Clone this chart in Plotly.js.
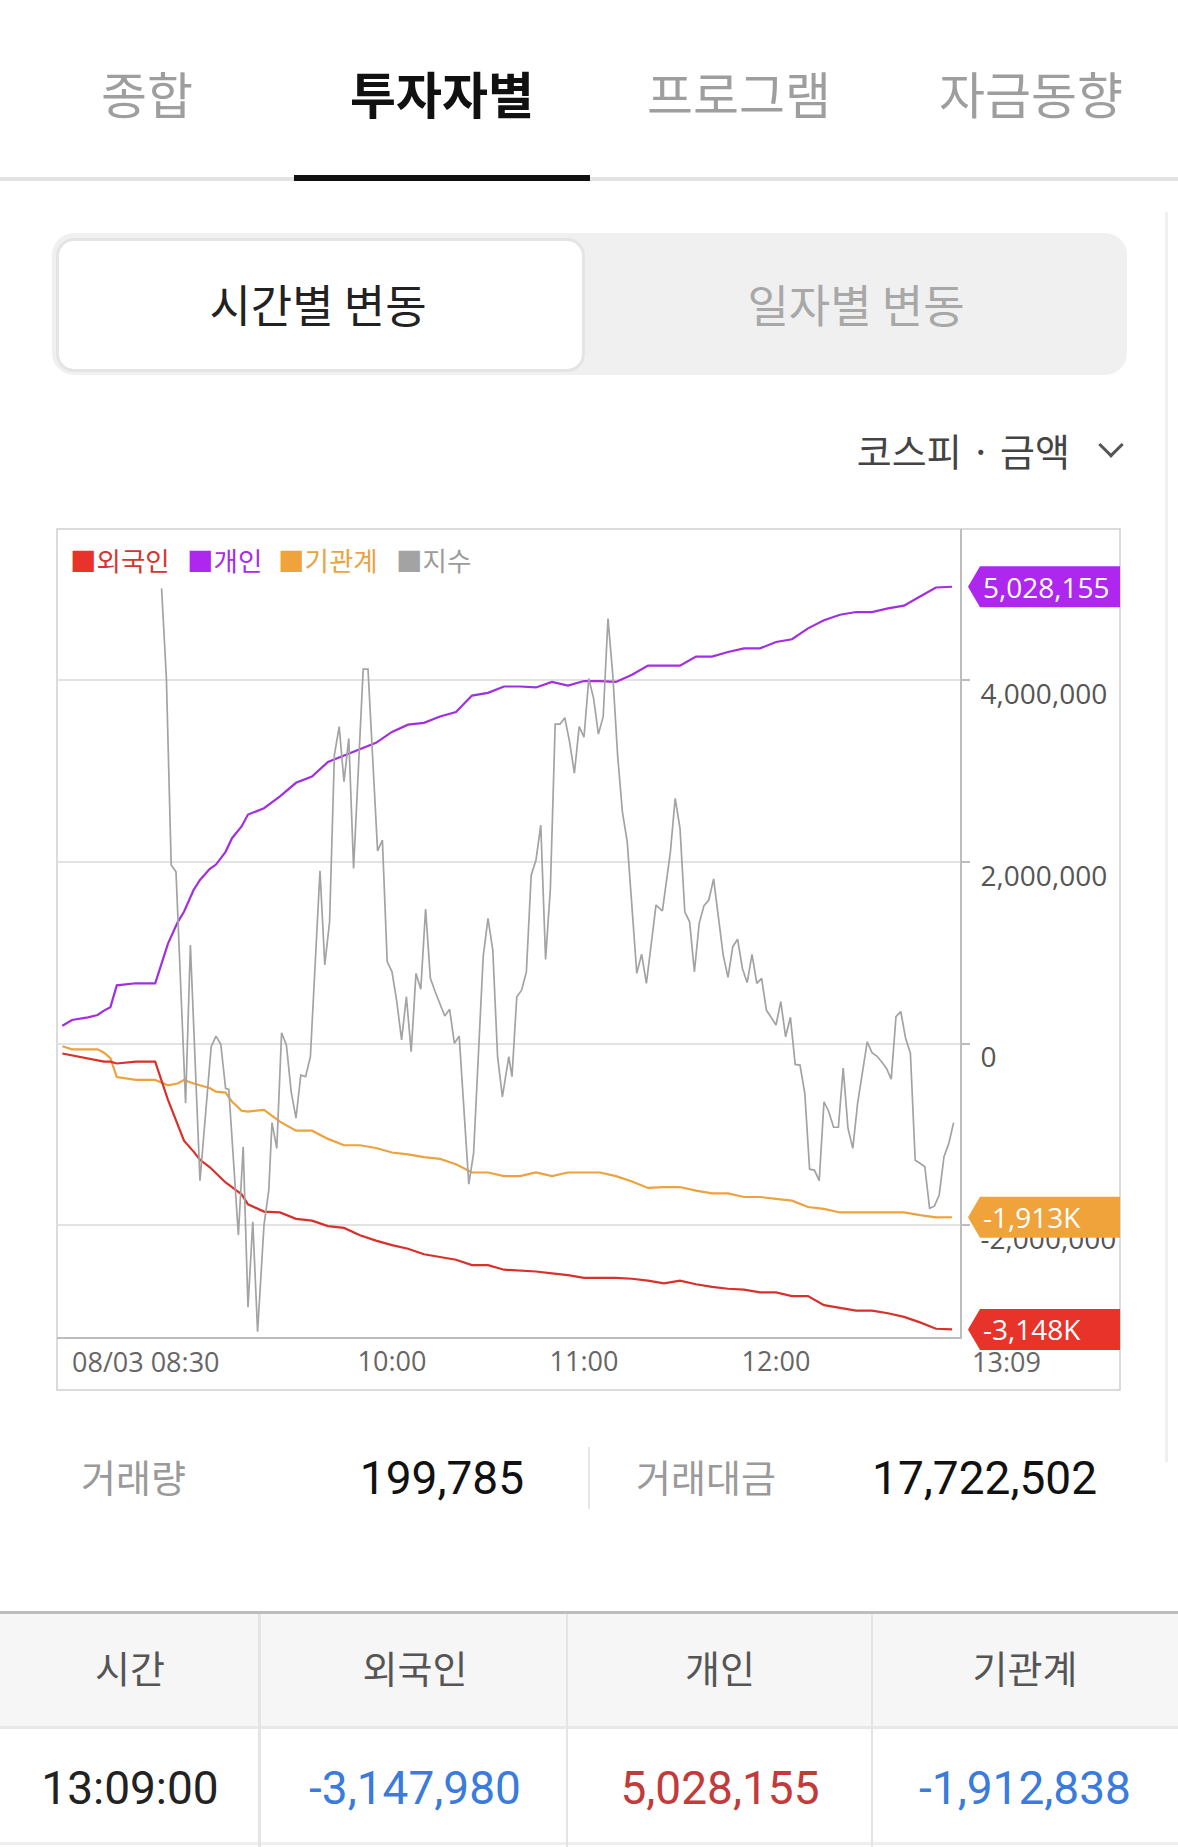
<!DOCTYPE html>
<html>
<head>
<meta charset="utf-8">
<script src="https://cdn.plot.ly/plotly-3.0.1.min.js"></script>
<style>
  html, body { margin:0; padding:0; background:#fff; }
  body { width:1178px; height:1847px; position:relative; overflow:hidden; font-family:"Noto Sans CJK KR","Noto Sans",sans-serif; }
  .c { position:absolute; transform:translate(-50%,-50%); white-space:nowrap; line-height:1; }
  .l { position:absolute; transform:translate(0,-50%); white-space:nowrap; line-height:1; }
  .r { position:absolute; transform:translate(-100%,-50%); white-space:nowrap; line-height:1; }
  .num { font-family:Roboto,"Noto Sans",sans-serif; }
  #chart { position:absolute; left:0; top:500px; width:1178px; height:940px; }
</style>
</head>
<body>
<!-- tabs -->
<div class="c" style="left:147px;top:92px;font-size:50px;color:#9e9e9e;">종합</div>
<div class="c" style="left:442px;top:92px;font-size:50px;color:#111;font-weight:700;">투자자별</div>
<div class="c" style="left:739px;top:92px;font-size:50px;color:#9e9e9e;">프로그램</div>
<div class="c" style="left:1031px;top:92px;font-size:50px;color:#9e9e9e;">자금동향</div>
<div style="position:absolute;left:0;top:177px;width:1178px;height:4px;background:#e3e3e3;"></div>
<div style="position:absolute;left:294px;top:175px;width:296px;height:6px;background:#111;"></div>
<div style="position:absolute;left:1165px;top:212px;width:3px;height:1250px;background:#f0f0f0;"></div>

<!-- segmented control -->
<div style="position:absolute;left:52px;top:233px;width:1075px;height:142px;background:#f0f0f0;border-radius:22px;"></div>
<div style="position:absolute;left:56px;top:238px;width:529px;height:134px;background:#fff;border:3px solid #e4e4e4;border-radius:18px;box-sizing:border-box;"></div>
<div class="c" style="left:318px;top:303px;font-size:45px;color:#222;">시간별 변동</div>
<div class="c" style="left:856px;top:303px;font-size:45px;color:#a8a8a8;">일자별 변동</div>

<!-- market selector -->
<div class="r" style="left:1070px;top:450px;font-size:38px;color:#444;">코스피 · 금액</div>
<div style="position:absolute;left:1102px;top:436px;width:15px;height:15px;border-right:3px solid #555;border-bottom:3px solid #555;transform:rotate(45deg);"></div>

<div id="chart"></div>

<!-- stats -->
<div class="l" style="left:81px;top:1476px;font-size:38px;color:#9a9a9a;">거래량</div>
<div class="r num" style="left:524px;top:1478px;font-size:46px;color:#111;">199,785</div>
<div style="position:absolute;left:588px;top:1447px;width:2px;height:62px;background:#e6e6e6;"></div>
<div class="l" style="left:636px;top:1476px;font-size:38px;color:#9a9a9a;">거래대금</div>
<div class="r num" style="left:1097px;top:1478px;font-size:46px;color:#111;">17,722,502</div>

<!-- table -->
<div style="position:absolute;left:0;top:1611px;width:1178px;height:3px;background:#bdbdbd;"></div>
<div style="position:absolute;left:0;top:1614px;width:1178px;height:113px;background:#f6f6f6;"></div>
<div style="position:absolute;left:0;top:1726px;width:1178px;height:3px;background:#e8e8e8;"></div>
<div style="position:absolute;left:0;top:1842px;width:1178px;height:3px;background:#eeeeee;"></div>
<div style="position:absolute;left:258px;top:1614px;width:3px;height:233px;background:#e4e4e4;"></div>
<div style="position:absolute;left:566px;top:1614px;width:2px;height:233px;background:#e4e4e4;"></div>
<div style="position:absolute;left:871px;top:1614px;width:2px;height:233px;background:#e4e4e4;"></div>
<div class="c" style="left:130px;top:1667px;font-size:38px;color:#555;">시간</div>
<div class="c" style="left:415px;top:1667px;font-size:38px;color:#555;">외국인</div>
<div class="c" style="left:720px;top:1667px;font-size:38px;color:#555;">개인</div>
<div class="c" style="left:1025px;top:1667px;font-size:38px;color:#555;">기관계</div>
<div class="c num" style="left:130px;top:1788px;font-size:46px;color:#222;">13:09:00</div>
<div class="c num" style="left:415px;top:1788px;font-size:46px;color:#3b7bdb;">-3,147,980</div>
<div class="c num" style="left:720px;top:1788px;font-size:46px;color:#c23b3b;">5,028,155</div>
<div class="c num" style="left:1025px;top:1788px;font-size:46px;color:#3b7bdb;">-1,912,838</div>

<script>
// ---- data ----
const tradeDate = '2023-08-03';
const investorTimes = ['08:17','08:20','08:25','08:28','08:30','08:32','08:34','08:40','08:46','08:50',
  '08:53','08:55','08:58','09:00','09:03','09:05','09:08','09:10','09:13','09:15',
  '09:20','09:25','09:30','09:35','09:40','09:45','09:50','09:55','10:00','10:05',
  '10:10','10:15','10:20','10:25','10:30','10:35','10:40','10:45','10:50','10:55',
  '11:00','11:05','11:10','11:15','11:20','11:25','11:30','11:35','11:40','11:45',
  '11:50','11:55','12:00','12:05','12:10','12:15','12:20','12:25','12:30','12:35',
  '12:40','12:45','12:50','12:55'];
const foreignNet = [-110000,-130000,-170000,-190000,-200000,-200000,-220000,-200000,-200000,-620000,
  -900000,-1070000,-1190000,-1280000,-1360000,-1430000,-1530000,-1580000,-1660000,-1770000,
  -1850000,-1860000,-1930000,-1950000,-2010000,-2030000,-2110000,-2170000,-2220000,-2260000,
  -2320000,-2350000,-2380000,-2440000,-2440000,-2490000,-2500000,-2510000,-2530000,-2550000,
  -2580000,-2580000,-2580000,-2590000,-2610000,-2640000,-2610000,-2650000,-2680000,-2700000,
  -2710000,-2740000,-2740000,-2780000,-2780000,-2880000,-2910000,-2940000,-2940000,-2970000,
  -3010000,-3070000,-3140000,-3147980];
const individualNet = [196000,259000,288000,314000,362000,400000,640000,663000,663000,1100000,
  1334000,1451000,1690000,1800000,1920000,1970000,2110000,2260000,2390000,2520000,
  2590000,2720000,2870000,2940000,3100000,3170000,3240000,3310000,3430000,3510000,
  3530000,3600000,3650000,3830000,3860000,3930000,3930000,3920000,3980000,3940000,
  3990000,3990000,3980000,4060000,4160000,4160000,4160000,4260000,4260000,4310000,
  4350000,4350000,4420000,4450000,4570000,4660000,4720000,4750000,4750000,4790000,
  4820000,4920000,5020000,5028155];
const institutionNet = [-30000,-64000,-64000,-64000,-101000,-160000,-370000,-400000,-401000,-460000,
  -440000,-401000,-440000,-463000,-490000,-530000,-540000,-640000,-740000,-750000,
  -730000,-860000,-960000,-960000,-1050000,-1120000,-1120000,-1150000,-1200000,-1220000,
  -1250000,-1270000,-1330000,-1420000,-1420000,-1460000,-1460000,-1420000,-1460000,-1420000,
  -1420000,-1420000,-1460000,-1520000,-1590000,-1580000,-1580000,-1620000,-1650000,-1650000,
  -1690000,-1690000,-1710000,-1730000,-1800000,-1820000,-1860000,-1860000,-1860000,-1860000,
  -1860000,-1890000,-1915000,-1912838];
const indexTimes = ['08:48:00','08:49:30','08:51:00','08:52:30','08:55:30','08:57:00','09:00:00','09:03:30','09:05:00','09:06:30',
  '09:08:00','09:09:00','09:12:00','09:13:30','09:15:00','09:16:30','09:18:00','09:20:00','09:21:30','09:22:30',
  '09:24:00','09:25:30','09:27:00','09:28:30','09:30:00','09:31:30','09:33:00','09:34:30','09:37:30','09:39:00',
  '09:40:30','09:42:00','09:43:30','09:45:00','09:46:30','09:48:00','09:51:00','09:52:30','09:55:30','09:57:00',
  '09:58:30','10:00:00','10:01:30','10:03:00','10:04:30','10:06:00','10:07:30','10:09:00','10:10:30','10:12:00',
  '10:13:30','10:16:30','10:18:00','10:19:30','10:21:00','10:24:00','10:25:30','10:28:30','10:30:00','10:31:30',
  '10:33:00','10:34:30','10:36:30','10:37:30','10:39:00','10:40:30','10:42:00','10:43:30','10:45:00','10:46:30',
  '10:48:00','10:49:30','10:51:00','10:52:30','10:54:00','10:55:30','10:57:00','10:58:30','11:00:00','11:01:30',
  '11:03:00','11:04:30','11:06:00','11:07:30','11:09:00','11:10:30','11:12:00','11:13:30','11:16:30','11:18:00',
  '11:19:30','11:22:30','11:24:30','11:27:00','11:28:30','11:30:00','11:31:30','11:33:00','11:34:30','11:36:00',
  '11:37:30','11:39:00','11:40:30','11:43:30','11:45:00','11:46:30','11:48:00','11:49:30','11:51:00','11:52:30',
  '11:54:00','11:55:30','11:57:00','11:58:30','12:00:00','12:01:30','12:03:00','12:04:30','12:06:00','12:07:30',
  '12:09:00','12:10:30','12:12:00','12:13:30','12:15:00','12:16:30','12:18:00','12:19:30','12:21:00','12:22:30',
  '12:24:00','12:25:30','12:27:00','12:28:30','12:30:00','12:31:30','12:33:00','12:34:30','12:36:00','12:37:30',
  '12:39:00','12:40:30','12:42:00','12:43:30','12:45:00','12:46:30','12:48:00','12:49:30','12:51:00','12:52:30',
  '12:54:00','12:55:30'];
const indexValues = [2620.09,2617.20,2611.19,2610.97,2603.52,2608.61,2601.03,2605.34,2605.68,2605.42,
  2604.00,2603.97,2599.28,2602.12,2596.96,2599.71,2596.17,2599.60,2600.73,2602.90,
  2602.07,2605.79,2605.40,2603.89,2603.04,2604.43,2604.38,2605.02,2611.00,2607.97,
  2609.36,2614.73,2615.64,2613.87,2615.26,2611.08,2617.49,2617.49,2611.64,2611.99,
  2608.08,2607.75,2606.79,2605.56,2606.95,2605.18,2607.70,2607.19,2609.77,2607.54,
  2607.11,2606.33,2606.55,2605.45,2605.68,2600.92,2601.91,2608.24,2609.47,2608.45,
  2605.02,2603.73,2605.02,2604.38,2606.95,2607.16,2607.75,2610.86,2611.35,2612.47,
  2608.15,2610.44,2615.72,2615.72,2615.93,2615.15,2614.14,2615.64,2615.30,2617.19,
  2616.55,2615.40,2615.96,2619.12,2617.30,2614.73,2612.90,2611.94,2607.70,2608.32,
  2607.38,2609.90,2609.71,2611.61,2613.33,2612.37,2609.68,2609.36,2607.75,2609.31,
  2609.88,2610.06,2610.74,2608.29,2607.57,2608.56,2608.80,2607.86,2607.40,2608.31,
  2607.38,2607.54,2606.52,2606.29,2606.04,2606.79,2605.66,2606.29,2604.77,2604.75,
  2603.84,2601.40,2601.37,2601.03,2603.57,2603.25,2602.75,2602.75,2604.65,2602.71,
  2602.07,2603.52,2604.59,2605.50,2605.15,2605.04,2604.86,2604.65,2604.30,2606.31,
  2606.47,2605.61,2605.13,2601.69,2601.59,2601.48,2600.14,2600.21,2600.57,2601.80,
  2602.23,2602.90];
const yTickVals = [-2000000, 0, 2000000, 4000000];
const yTickText = ['-2,000,000', '0', '2,000,000', '4,000,000'];
const xTickTimes = ['10:00', '11:00', '12:00'];
const firstTimeLabel = '08/03 08:30';
const lastTimeLabel = '13:09';
const seriesNames = ['외국인', '개인', '기관계', '지수'];
const lastValues = [-3147980, 5028155, -1912838];
const lastLabels = ['-3,148K', '5,028,155', '-1,913K'];

// ---- styles ----
const lineColors = ['#d8302a', '#a12fe2', '#eca23f', '#a3a3a3'];
const badgeColors = ['#e8332b', '#ad27ee', '#f0a33b'];
const textColors = ['#d4362f', '#a52ee6', '#e9a444', '#9c9c9c'];
const squareColors = ['#e8332b', '#ad27ee', '#f0a33b', '#a3a3a3'];
const yRange = [-3231000, 5664000];

const toDate = t => tradeDate + ' ' + t;
const ix = investorTimes.map(toDate);

const traces = [
  {x: ix, y: institutionNet, type:'scatter', mode:'lines', name: seriesNames[2], line:{color:lineColors[2], width:2.2}, hoverinfo:'skip'},
  {x: ix, y: individualNet, type:'scatter', mode:'lines', name: seriesNames[1], line:{color:lineColors[1], width:2.2}, hoverinfo:'skip'},
  {x: ix, y: foreignNet, type:'scatter', mode:'lines', name: seriesNames[0], line:{color:lineColors[0], width:2.2}, hoverinfo:'skip'},
  {x: indexTimes.map(toDate), y: indexValues, type:'scatter', mode:'lines', name: seriesNames[3], yaxis:'y2', line:{color:lineColors[3], width:1.7}, hoverinfo:'skip'}
];

const plotW = 903, plotH = 808; // plot area in px (for paper placement)
const annotations = [];
const legendX = [68, 184.5, 275.5, 393.5];
seriesNames.forEach((n, i) => {
  annotations.push({
    xref:'paper', yref:'paper', x:(legendX[i]-57)/plotW, y:(1337-559)/plotH,
    xanchor:'left', yanchor:'middle', showarrow:false,
    text:'<span style="color:' + squareColors[i] + '">■</span>' + n,
    font:{family:'Noto Sans CJK KR, Noto Sans, sans-serif', size:26.5, color:textColors[i]}
  });
});
annotations.push({xref:'paper', yref:'paper', x:(70-57)/plotW, y:(1337-1361)/plotH, xanchor:'left', yanchor:'middle',
  showarrow:false, text:firstTimeLabel, font:{family:'Open Sans, Noto Sans, sans-serif', size:27, color:'#666'}});
annotations.push({xref:'paper', yref:'paper', x:(1007-57)/plotW, y:(1337-1361)/plotH, xanchor:'center', yanchor:'middle',
  showarrow:false, text:lastTimeLabel, font:{family:'Open Sans, Noto Sans, sans-serif', size:27, color:'#666'}});

const shapes = [
  {type:'rect', xref:'paper', yref:'paper', x0:0, x1:(1120-57)/plotW, y0:(1337-1390)/plotH, y1:1,
   line:{color:'#cfcfcf', width:1.5}, fillcolor:'rgba(0,0,0,0)', layer:'below'}
];
lastValues.forEach((v, i) => {
  // badge pinned to the series' last value, placed in paper space so it is not clipped by the plot area
  const yp = (v - yRange[0]) / (yRange[1] - yRange[0]);
  shapes.push({type:'path', xref:'paper', xsizemode:'pixel', xanchor:1, yref:'paper', ysizemode:'pixel', yanchor:yp,
    path:'M 8 0 L 20 20.5 L 160 20.5 L 160 -20.5 L 20 -20.5 Z', fillcolor:badgeColors[i], line:{width:0}, layer:'above'});
  annotations.push({xref:'paper', yref:'paper', x:1, xshift:21, y:yp, xanchor:'left', yanchor:'middle', showarrow:false,
    text:lastLabels[i], font:{family:'Open Sans, Noto Sans, sans-serif', size:28, color:'#fff'}});
});

const layout = {
  width:1178, height:940,
  margin:{l:57, r:218, t:29, b:103, pad:0},
  paper_bgcolor:'rgba(0,0,0,0)', plot_bgcolor:'rgba(0,0,0,0)',
  showlegend:false,
  xaxis:{type:'date', range:[toDate('08:15:19'), toDate('12:57:30')],
    tickvals: xTickTimes.map(toDate), ticktext: xTickTimes, ticks:'', showgrid:false, zeroline:false,
    showline:true, linecolor:'#bdbdbd', linewidth:2,
    tickfont:{family:'Open Sans, Noto Sans, sans-serif', size:27, color:'#666'}, ticklabelstandoff:0},
  yaxis:{side:'right', range:yRange, tickvals:yTickVals, ticktext:yTickText,
    showgrid:true, gridcolor:'#e2e2e2', gridwidth:2, zeroline:false,
    showline:true, linecolor:'#bdbdbd', linewidth:2, ticks:'outside', ticklen:8, tickwidth:2, tickcolor:'#bdbdbd',
    tickfont:{family:'Open Sans, Noto Sans, sans-serif', size:28, color:'#555'}, ticklabelshift:14, ticklabelstandoff:5},
  yaxis2:{overlaying:'y', range:[2596, 2622], visible:false, showgrid:false, zeroline:false},
  annotations: annotations,
  shapes: shapes
};

Plotly.newPlot('chart', traces, layout, {staticPlot:true, displayModeBar:false});
</script>
</body>
</html>
